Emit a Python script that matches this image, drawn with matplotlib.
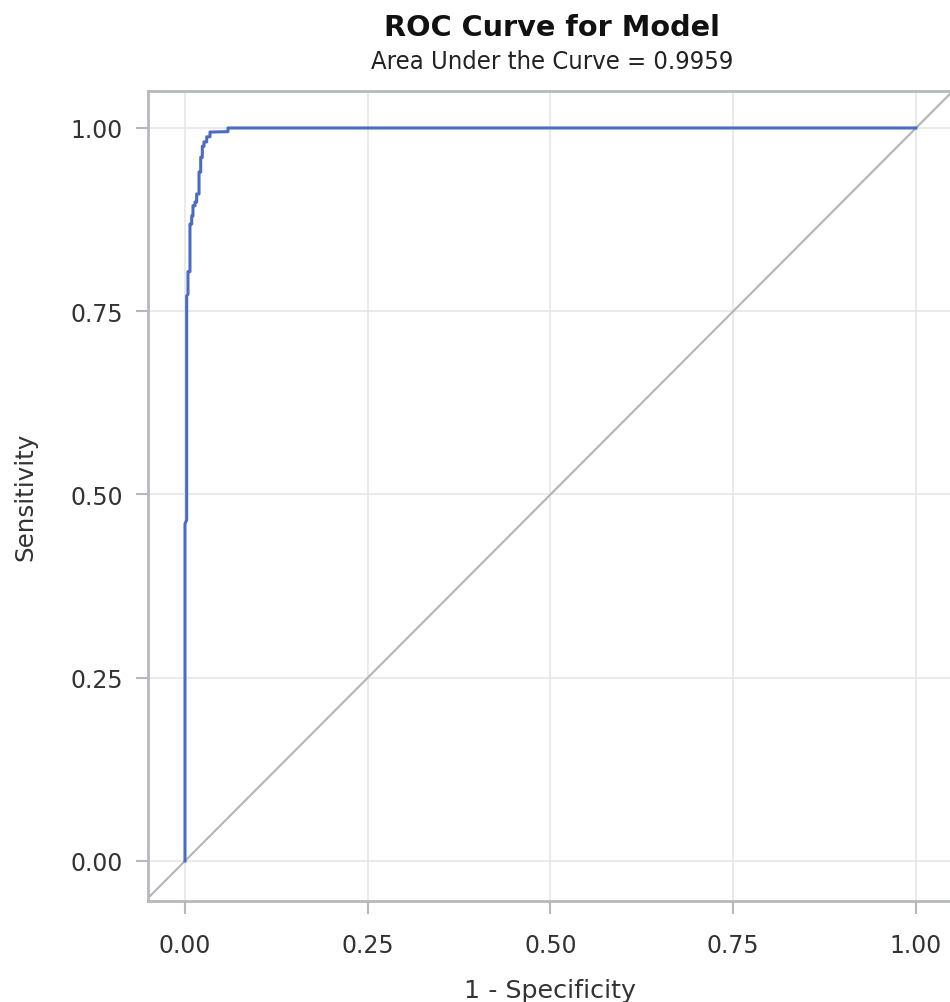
import matplotlib
matplotlib.use("Agg")
import matplotlib.pyplot as plt

# ROC curve vertices
fpr = [0.0, 0.0, 0.0023, 0.0023, 0.0041, 0.0041, 0.0068, 0.0068, 0.0092, 0.0092,
       0.0109, 0.0109, 0.0137, 0.0137, 0.016, 0.016, 0.0192, 0.0192, 0.0215, 0.0215,
       0.0237, 0.0237, 0.026, 0.026, 0.0297, 0.0297, 0.0342, 0.0342, 0.0387, 0.0588,
       0.0588, 1.0]
tpr = [0.0, 0.46, 0.465, 0.771, 0.773, 0.804, 0.804, 0.869, 0.869, 0.88,
       0.88, 0.894, 0.894, 0.899, 0.899, 0.91, 0.91, 0.94, 0.94, 0.96,
       0.96, 0.975, 0.975, 0.981, 0.981, 0.988, 0.988, 0.9945, 0.9945, 0.995,
       1.0, 1.0]
ticks = [0.0, 0.25, 0.5, 0.75, 1.0]
tick_labels = ["0.00", "0.25", "0.50", "0.75", "1.00"]
auc = 0.9959

plt.rcParams['font.family'] = ['DejaVu Sans']

fig = plt.figure(figsize=(9.5, 10.03), dpi=100)
W, H = 950, 1003
left_px, bottom_px = 148, 902
x0, x1 = -0.0506, 1.05
y0, y1 = -0.0546, 1.0505
sx, sy = 731, 733
w_px = (x1 - x0) * sx
h_px = (y1 - y0) * sy
ax = fig.add_axes([left_px / W, 1 - bottom_px / H, w_px / W, h_px / H])
ax.set_xlim(x0, x1)
ax.set_ylim(y0, y1)

ax.grid(True, color='#e6e6e6', linewidth=1.2)
ax.set_axisbelow(True)
ax.plot([x0, x1], [x0, x1], color='#b4b4b4', linewidth=1.5, zorder=2)
ax.plot(fpr, tpr, color='#4a6cc2', linewidth=2.2, zorder=3)

ax.set_xticks(ticks)
ax.set_xticklabels(tick_labels)
ax.set_yticks(ticks)
ax.set_yticklabels(tick_labels)
for s in ax.spines.values():
    s.set_color('#b5b9bd')
    s.set_linewidth(2)
ax.spines['right'].set_visible(False)
ax.tick_params(axis='both', direction='out', length=9, width=1.5, color='#b5b9bd',
               labelsize=17, labelcolor='#333333')
ax.tick_params(axis='x', pad=14)
ax.tick_params(axis='y', pad=9)

ax.set_xlabel("1 - Specificity", fontsize=18.3, color='#333333', labelpad=15)
ax.set_ylabel("Sensitivity", fontsize=17.7, color='#333333', labelpad=24)

fig.text(552 / W, 1 - 28 / H, "ROC Curve for Model", ha='center', va='center',
         fontsize=20.7, fontweight='bold', color='#111111')
fig.text(552 / W, 1 - 62 / H, f"Area Under the Curve = {auc}", ha='center', va='center',
         fontsize=18.3, color='#222222', fontstretch='condensed')

fig.savefig("out.png", dpi=100)
